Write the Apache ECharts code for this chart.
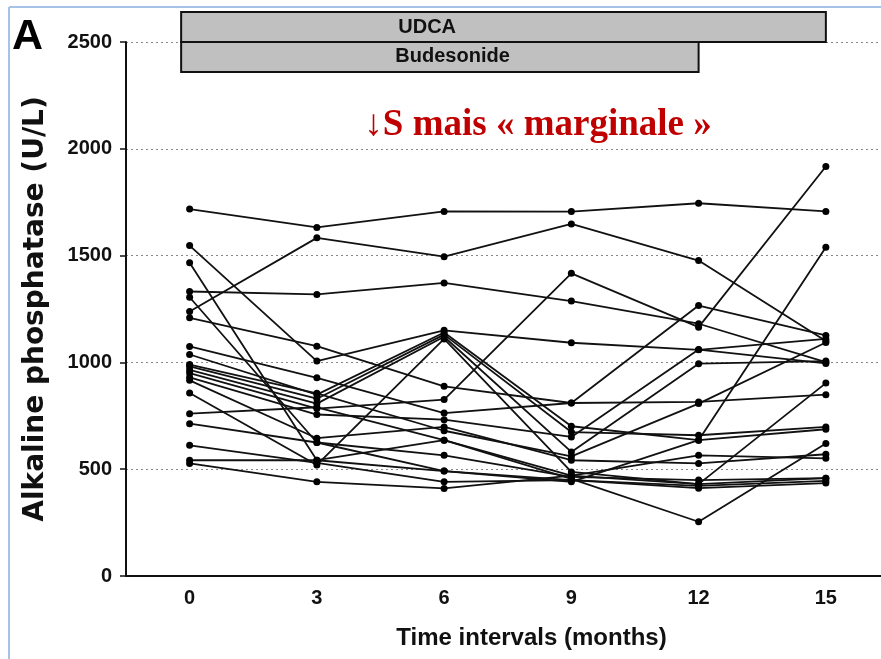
<!DOCTYPE html>
<html>
<head>
<meta charset="utf-8">
<script src="https://cdn.jsdelivr.net/npm/echarts@6/dist/echarts.min.js"></script>
<style>
  html, body { margin: 0; padding: 0; background: #fff; }
  #chart { width: 881px; height: 659px; }
</style>
</head>
<body>
<div id="chart"></div>
<script>
// Visit times (months on treatment)
const months = [0, 3, 6, 9, 12, 15];
const yTickMax = 2500;
const yTickStep = 500;

// Alkaline phosphatase (U/L) per patient at each visit
const pt01 = [1718, 1632, 1707, 1706, 1745, 1707];
const pt02 = [1238, 1583, 1495, 1648, 1477, 1100];
const pt03 = [1332, 1318, 1372, 1287, 1181, 1001];
const pt04 = [1547, 1006, 1150, 1092, 1059, 1110];
const pt05 = [1209, 1076, 888, 810, 1266, 1126];
const pt06 = [1075, 928, 763, 810, 815, 849];
const pt07 = [1037, 849, 1140, 701, 636, 1539];
const pt08 = [981, 830, 1130, 674, 659, 698];
const pt09 = [965, 807, 1120, 581, 994, 1006];
const pt10 = [857, 520, 1110, 487, 430, 903];
const pt11 = [950, 784, 826, 1417, 1165, 1917];
const pt12 = [930, 756, 732, 651, 1060, 995];
const pt13 = [916, 645, 698, 542, 527, 570];
const pt14 = [1466, 542, 636, 470, 565, 551];
const pt15 = [1305, 625, 565, 464, 449, 458];
const pt16 = [760, 790, 636, 455, 254, 620];
const pt17 = [713, 625, 491, 449, 411, 435];
const pt18 = [612, 530, 441, 449, 422, 445];
const pt19 = [542, 542, 491, 441, 636, 687];
const pt20 = [527, 441, 410, 470, 430, 458];
const pt21 = [990, 855, 680, 560, 807, 1093];

const patients = [pt01, pt02, pt03, pt04, pt05, pt06, pt07, pt08, pt09, pt10, pt11,
  pt12, pt13, pt14, pt15, pt16, pt17, pt18, pt19, pt20, pt21];

// Treatment periods shown as bars above the plot (months)
const treatmentNames = ['UDCA', 'Budesonide'];
const treatmentStart = [-0.2, -0.2];
const treatmentEnd = [15, 12];

const sans = '"Liberation Sans", Arial, Helvetica, sans-serif';

const chart = echarts.init(document.getElementById('chart'), null, { renderer: 'canvas' });

const series = patients.map((vals, i) => ({
  name: 'P' + (i + 1),
  type: 'line',
  data: months.map((m, k) => [m, vals[k]]),
  symbol: 'circle',
  symbolSize: 7,
  showSymbol: true,
  lineStyle: { color: '#111', width: 1.8 },
  itemStyle: { color: '#000' },
  emphasis: { disabled: true },
  silent: true,
  z: 3
}));

chart.setOption({
  animation: false,
  backgroundColor: '#fff',
  grid: { left: 126, right: 0, top: 42, height: 534 },
  xAxis: {
    type: 'value',
    min: -1.5,
    max: 16.3,
    name: 'Time intervals (months)',
    nameLocation: 'middle',
    nameGap: 50,
    nameTextStyle: { fontFamily: sans, fontWeight: 'bold', fontSize: 24, color: '#111', padding: [0, 0, 0, 56] },
    axisLine: { show: true, onZero: false, lineStyle: { color: '#111', width: 2 } },
    axisTick: { show: false },
    splitLine: { show: false },
    axisLabel: {
      customValues: months,
      fontFamily: sans, fontWeight: 'bold', fontSize: 20, color: '#111', margin: 12
    }
  },
  yAxis: {
    type: 'value',
    min: 0,
    max: yTickMax,
    interval: yTickStep,
    name: 'Alkaline phosphatase (U/L)',
    nameLocation: 'middle',
    nameGap: 76,
    nameRotate: 90,
    nameTextStyle: { fontFamily: '"DejaVu Sans", sans-serif', fontWeight: 'bold', fontSize: 28, color: '#111' },
    axisLine: { show: true, onZero: false, lineStyle: { color: '#111', width: 2 } },
    axisTick: { show: true, inside: false, length: 6, lineStyle: { color: '#111', width: 1.5 } },
    splitLine: { show: true, lineStyle: { color: '#888', width: 1, type: [2, 3] } },
    axisLabel: {
      formatter: v => String(v),
      fontFamily: sans, fontWeight: 'bold', fontSize: 20, color: '#111', margin: 14
    }
  },
  series: series
});

// Treatment bars, panel letter, annotation and frame
const rowHeight = 140; // bar height in axis units (U/L)
const graphics = [];
treatmentNames.forEach((name, i) => {
  const yTop = yTickMax + rowHeight * (1 - i);
  const yBot = yTop - rowHeight;
  const p1 = chart.convertToPixel({ gridIndex: 0 }, [treatmentStart[i], yTop]);
  const p2 = chart.convertToPixel({ gridIndex: 0 }, [treatmentEnd[i], yBot]);
  graphics.push({
    type: 'rect',
    shape: { x: p1[0], y: p1[1], width: p2[0] - p1[0], height: p2[1] - p1[1] },
    style: { fill: '#c0c0c0', stroke: '#111', lineWidth: 2 },
    z: 10
  });
  const labelMonth = i === 0 ? 5.6 : 6.2;
  const c = chart.convertToPixel({ gridIndex: 0 }, [labelMonth, (yTop + yBot) / 2]);
  graphics.push({
    type: 'text',
    x: c[0], y: c[1],
    style: { text: name, fill: '#111', font: 'bold 20px ' + sans, align: 'center', verticalAlign: 'middle' },
    z: 11
  });
});

graphics.push({
  type: 'text', x: 12, y: 59,
  style: { text: 'A', fill: '#000', font: 'bold 43px ' + sans, align: 'left', verticalAlign: 'bottom' },
  z: 11
});
graphics.push({
  type: 'text', x: 538, y: 125,
  style: { text: '↓S mais « marginale »', fill: '#c00000',
    font: 'bold 37px "Liberation Serif", "Times New Roman", serif', align: 'center', verticalAlign: 'middle' },
  z: 11
});
graphics.push({
  type: 'line', shape: { x1: 9, y1: 7, x2: 881, y2: 7 },
  style: { stroke: '#a6c2e6', lineWidth: 2 }, z: 12
});
graphics.push({
  type: 'line', shape: { x1: 9, y1: 7, x2: 9, y2: 659 },
  style: { stroke: '#a6c2e6', lineWidth: 2 }, z: 12
});

chart.setOption({ graphic: graphics });
</script>
</body>
</html>
